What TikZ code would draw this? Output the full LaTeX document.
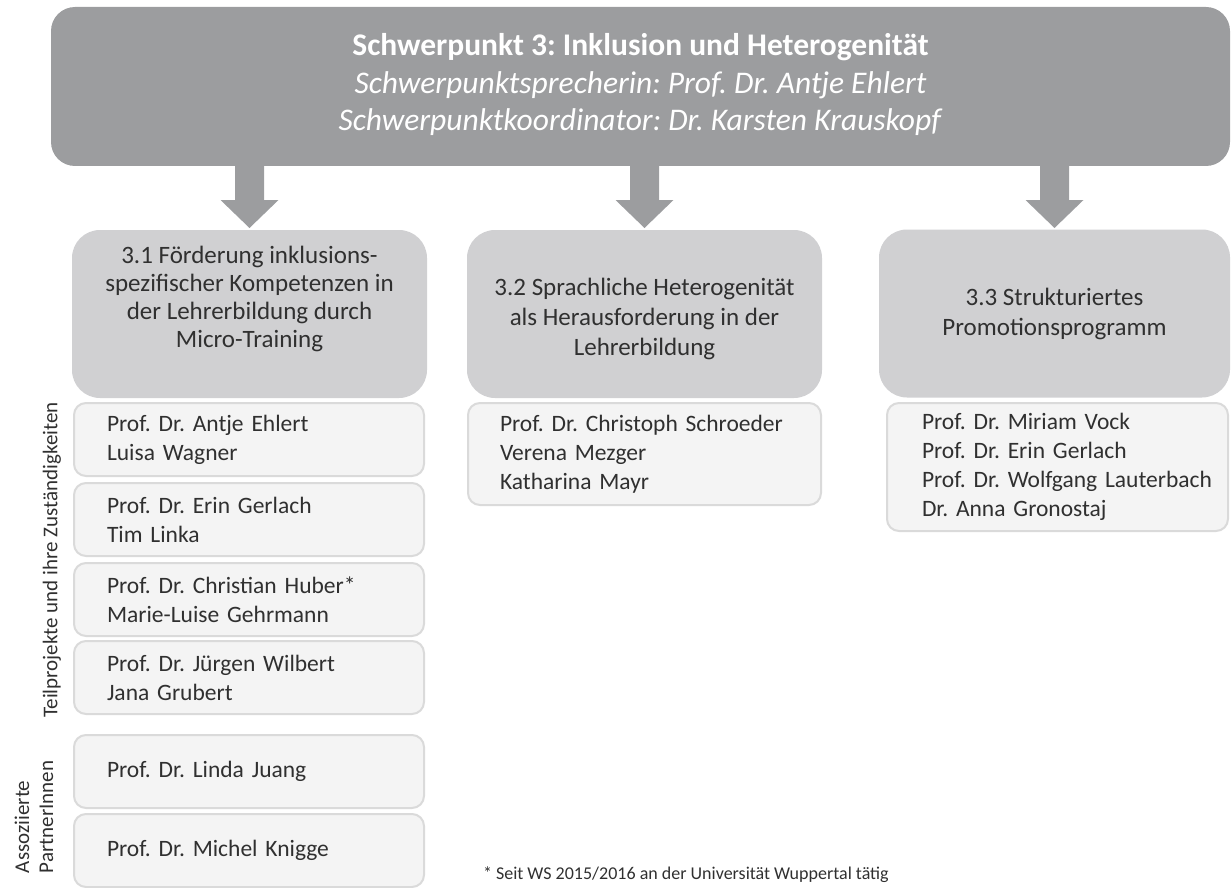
\documentclass[tikz,border=0pt]{standalone}
\usepackage{fontspec}
\setmainfont{Carlito}
\frenchspacing
\usetikzlibrary{positioning}
\definecolor{spgrey}{RGB}{156,157,159}
\definecolor{tpgrey}{RGB}{208,208,210}
\definecolor{nmfill}{RGB}{244,244,244}
\definecolor{nmline}{RGB}{218,218,218}
\definecolor{txtdark}{RGB}{48,48,48}
\begin{document}
\begin{tikzpicture}[x=1pt,y=-1pt,every node/.style={inner sep=0pt, outer sep=0pt},
  spbox/.style={fill=spgrey, rounded corners=24pt, minimum width=1179pt, minimum height=159pt, text=white, align=center, font=\fontsize{31.5}{37.5}\selectfont},
  tpbox/.style={fill=tpgrey, rounded corners=28pt, minimum width=#1, minimum height=168pt, text=txtdark, align=center, font=\fontsize{25}{30}\selectfont},
  nmbox/.style={fill=nmfill, draw=nmline, line width=2pt, rounded corners=12pt, minimum height=73pt, text width=#1, inner xsep=33pt, align=left, text=txtdark, font=\fontsize{23.5}{29}\selectfont},
  sidelabel/.style={rotate=90, text=txtdark, align=left, font=\fontsize{21}{24}\selectfont}]
\useasboundingbox (0,0) rectangle (1232,888);
% Schwerpunkt
\node[spbox] (sp3) at (640.5,86.5) {\textbf{Schwerpunkt 3: Inklusion und Heterogenität}\\ \textit{Schwerpunktsprecherin: Prof. Dr. Antje Ehlert}\\ \textit{Schwerpunktkoordinator: Dr. Karsten Krauskopf}\\[-28.5pt]\mbox{}};
% Teilprojekte
\node[tpbox=355pt, font=\fontsize{25}{28}\selectfont] (tp1) at (249.5,314) {3.1 Förderung inklusions-\\spezifischer Kompetenzen in\\der Lehrerbildung durch\\Micro-Training\\[6pt]\mbox{}};
\node[tpbox=355pt] (tp2) at (644.5,314) {\mbox{}\\[-2pt]3.2 Sprachliche Heterogenität\\als Herausforderung in der\\Lehrerbildung};
\node[tpbox=351pt] (tp3) at (1054.5,313.5) {3.3 Strukturiertes\\Promotionsprogramm};
% Pfeile
\fill[spgrey] (sp3.south -| tp1.north) ++(-14.5,-1) -- ++(0,35) -- ++(-14.5,0) -- ++(29,28) -- ++(29,-28) -- ++(-14.5,0) -- ++(0,-35) -- cycle;
\fill[spgrey] (sp3.south -| tp2.north) ++(-14.5,-1) -- ++(0,35) -- ++(-14.5,0) -- ++(29,28) -- ++(29,-28) -- ++(-14.5,0) -- ++(0,-35) -- cycle;
\fill[spgrey] (sp3.south -| tp3.north) ++(-14.5,-1) -- ++(0,35) -- ++(-14.5,0) -- ++(29,28) -- ++(29,-28) -- ++(-14.5,0) -- ++(0,-35) -- cycle;
% Personen 3.1
\node[nmbox=284pt] (p11) at (249,439.5) {Prof. Dr. Antje Ehlert\\Luisa Wagner};
\node[nmbox=284pt] (p12) at (249,519.5) {Prof. Dr. Erin Gerlach\\Tim Linka};
\node[nmbox=284pt] (p13) at (249,599.5) {Prof. Dr. Christian Huber*\\Marie-Luise Gehrmann};
\node[nmbox=284pt] (p14) at (249,677.5) {Prof. Dr. Jürgen Wilbert\\Jana Grubert};
\node[nmbox=284pt] (p15) at (249,771.5) {Prof. Dr. Linda Juang};
\node[nmbox=284pt] (p16) at (249,850.5) {Prof. Dr. Michel Knigge};
% Personen 3.2 und 3.3
\node[nmbox=289pt, inner xsep=32pt, minimum height=102pt] (p21) at (644.5,454) {Prof. Dr. Christoph Schroeder\\Verena Mezger\\Katharina Mayr};
\node[nmbox=315pt, inner xsep=13pt, minimum height=128pt] (p31) at (1057.5,467) {\leftskip=22pt Prof. Dr. Miriam Vock\\Prof. Dr. Erin Gerlach\\Prof. Dr. Wolfgang Lauterbach\\Dr. Anna Gronostaj\par};
% Seitenbeschriftung
\node[sidelabel] (teil) at (52,560) {Teilprojekte und ihre Zuständigkeiten};
\node[sidelabel, anchor=west] (asso) at (34,873) {Assoziierte\\PartnerInnen};
\node[anchor=west, text=txtdark, font=\fontsize{18}{22}\selectfont] (fuss) at (483,875) {* Seit WS 2015/2016 an der Universität Wuppertal tätig};
\end{tikzpicture}
\end{document}
